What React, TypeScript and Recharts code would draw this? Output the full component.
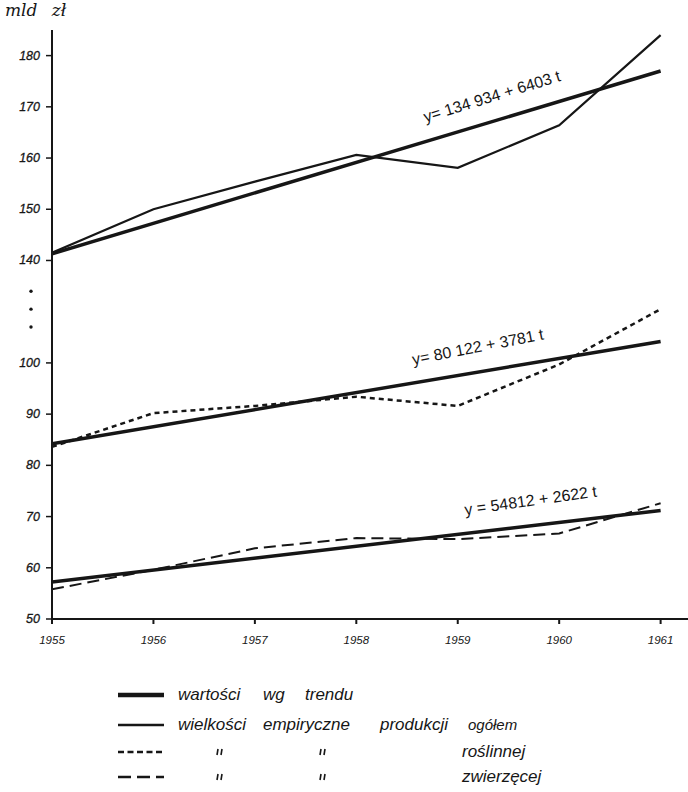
import React from 'react';
import { LineChart, Line, XAxis, YAxis, ReferenceDot } from 'recharts';

// odczyt z wykresu, mld zł
const YEARS = [1955, 1956, 1957, 1958, 1959, 1960, 1961];
const TOTAL_ACTUAL = [141.5, 150.0, 155.4, 160.6, 158.1, 166.4, 184.0];
const TOTAL_TREND = [141.3, null, null, null, null, null, 177.0];
const PLANT_ACTUAL = [83.6, 90.2, 91.6, 93.4, 91.6, 99.7, 110.5];
const PLANT_TREND = [84.2, null, null, null, null, null, 104.2];
const ANIMAL_ACTUAL = [55.8, 59.6, 63.8, 65.8, 65.6, 66.7, 72.6];
const ANIMAL_TREND = [57.2, null, null, null, null, null, 71.2];

const Y_TICKS = [50, 60, 70, 80, 90, 100, 140, 150, 160, 170, 180];
const BREAK_MARKS = [107, 110.5, 114]; // kropki na przerwanej osi (jednostki osi)
const EQUATIONS = ['y= 134 934 + 6403 t', 'y= 80 122 + 3781 t', 'y = 54812 + 2622 t'];
const LEGEND_LABELS = ['wartości wg trendu', 'wielkości empiryczne produkcji ogółem', 'roślinnej', 'zwierzęcej'];

// oś przerwana między 100 a 140
const GAP = 20;
const toAxis = (v: number | null) => (v == null ? null : v >= 120 ? v - GAP : v);
const fromAxis = (v: number) => (v >= 120 ? v + GAP : v);

const data = YEARS.map((year, i) => ({
  year,
  totalActual: toAxis(TOTAL_ACTUAL[i]),
  totalTrend: toAxis(TOTAL_TREND[i]),
  plantActual: toAxis(PLANT_ACTUAL[i]),
  plantTrend: toAxis(PLANT_TREND[i]),
  animalActual: toAxis(ANIMAL_ACTUAL[i]),
  animalTrend: toAxis(ANIMAL_TREND[i])
}));

const INK = '#161616';
const HAND = '"Liberation Sans", Arial, sans-serif';

const YTick = (props: any) => {
  const { x, y, payload } = props;
  if (BREAK_MARKS.includes(payload.value)) {
    return <circle cx={x - 11} cy={y} r={1.7} fill={INK} />;
  }
  return (
    <g>
      <line x1={x + 4} x2={x + 10} y1={y} y2={y} stroke={INK} strokeWidth={1.5} />
      <text x={x - 2} y={y} dy={4} textAnchor="end" fill={INK} fontSize={12.5}
        fontStyle="italic" fontFamily={HAND} stroke={INK} strokeWidth={0.3}>
        {fromAxis(payload.value)}
      </text>
    </g>
  );
};

const equationShape = (text: string, angle: number) => (p: any) => (
  <text x={p.cx} y={p.cy} textAnchor="middle" dominantBaseline="middle" fill={INK}
    fontSize={16} fontFamily={HAND} transform={`rotate(${angle} ${p.cx} ${p.cy})`}>
    {text}
  </text>
);

const LegendSample = ({ width, dash }: { width: number; dash?: string }) => (
  <svg width={46} height={10} style={{ position: 'absolute', left: 0, top: 4 }}>
    <line x1={0} x2={46} y1={5} y2={5} stroke={INK} strokeWidth={width} strokeDasharray={dash} />
  </svg>
);

const Ditto = ({ left }: { left: number }) => (
  <svg width={8} height={10} style={{ position: 'absolute', left, top: 5 }}>
    <line x1={3} y1={1} x2={2} y2={7} stroke={INK} strokeWidth={1.6} />
    <line x1={7} y1={1} x2={6} y2={7} stroke={INK} strokeWidth={1.6} />
  </svg>
);

const textStyle: React.CSSProperties = {
  position: 'absolute',
  top: 0,
  fontFamily: HAND,
  fontStyle: 'italic',
  fontSize: 17,
  color: INK,
  whiteSpace: 'nowrap',
  lineHeight: '18px'
};

export default function App() {
  const [wartosci, wielkosci, roslinnej, zwierzecej] = LEGEND_LABELS;
  const w1 = wartosci.split(' ');
  const w2 = wielkosci.split(' ');
  return (
    <div style={{ position: 'absolute', left: 0, top: 0, width: 688, height: 792, background: '#fff' }}>
      <div style={{ position: 'absolute', left: 5, top: 0, fontFamily: '"DejaVu Serif", serif',
        fontStyle: 'italic', fontSize: 17, color: INK, wordSpacing: 9 }}>
        mld zł
      </div>
      <LineChart width={688} height={650} data={data} margin={{ top: 30, right: 0, bottom: 1, left: 0 }}>
        <XAxis
          dataKey="year"
          type="number"
          domain={[1955, 1961.27]}
          ticks={YEARS}
          interval={0}
          allowDataOverflow
          stroke={INK}
          strokeWidth={2}
          tickSize={5}
          tickMargin={12}
          height={30}
          tick={{ fill: INK, fontSize: 11.5, fontStyle: 'italic', fontFamily: HAND }}
        />
        <YAxis
          type="number"
          domain={[50, 165]}
          ticks={[...Y_TICKS.map(v => toAxis(v) as number), ...BREAK_MARKS].sort((a, b) => a - b)}
          interval={0}
          allowDataOverflow
          width={52}
          stroke={INK}
          strokeWidth={2}
          tickLine={false}
          tickSize={6}
          tickMargin={4}
          tick={<YTick />}
        />

        <Line dataKey="totalTrend" stroke={INK} strokeWidth={3.5} dot={false} connectNulls isAnimationActive={false} />
        <Line dataKey="totalActual" stroke={INK} strokeWidth={2.2} dot={false} isAnimationActive={false} />
        <Line dataKey="plantTrend" stroke={INK} strokeWidth={3.5} dot={false} connectNulls isAnimationActive={false} />
        <Line dataKey="plantActual" stroke={INK} strokeWidth={2.5} strokeDasharray="5 4"
          dot={false} isAnimationActive={false} />
        <Line dataKey="animalTrend" stroke={INK} strokeWidth={3.5} dot={false} connectNulls isAnimationActive={false} />
        <Line dataKey="animalActual" stroke={INK} strokeWidth={2} strokeDasharray="12 6"
          dot={false} isAnimationActive={false} />

        <ReferenceDot x={1959.34} y={151.8} r={0} shape={equationShape(EQUATIONS[0], -17)} />
        <ReferenceDot x={1959.2} y={102.9} r={0} shape={equationShape(EQUATIONS[1], -11)} />
        <ReferenceDot x={1959.72} y={72.9} r={0} shape={equationShape(EQUATIONS[2], -8)} />
      </LineChart>

      <div style={{ position: 'absolute', left: 118, top: 686, width: 560, height: 100 }}>
        <div style={{ position: 'absolute', top: 0, left: 0, width: 560, height: 20 }}>
          <LegendSample width={4.5} />
          <span style={{ ...textStyle, left: 60 }}>{w1[0]}</span>
          <span style={{ ...textStyle, left: 145 }}>{w1[1]}</span>
          <span style={{ ...textStyle, left: 187 }}>{w1[2]}</span>
        </div>
        <div style={{ position: 'absolute', top: 30, left: 0, width: 560, height: 20 }}>
          <LegendSample width={2.5} />
          <span style={{ ...textStyle, left: 60 }}>{w2[0]}</span>
          <span style={{ ...textStyle, left: 145 }}>{w2[1]}</span>
          <span style={{ ...textStyle, left: 262 }}>{w2[2]}</span>
          <span style={{ ...textStyle, left: 350, fontSize: 15 }}>{w2[3]}</span>
        </div>
        <div style={{ position: 'absolute', top: 57, left: 0, width: 560, height: 20 }}>
          <LegendSample width={2.5} dash="6 3.5" />
          <Ditto left={97} />
          <Ditto left={200} />
          <span style={{ ...textStyle, left: 344 }}>{roslinnej}</span>
        </div>
        <div style={{ position: 'absolute', top: 82, left: 0, width: 560, height: 20 }}>
          <LegendSample width={2.5} dash="13 6" />
          <Ditto left={97} />
          <Ditto left={200} />
          <span style={{ ...textStyle, left: 344 }}>{zwierzecej}</span>
        </div>
      </div>
    </div>
  );
}
